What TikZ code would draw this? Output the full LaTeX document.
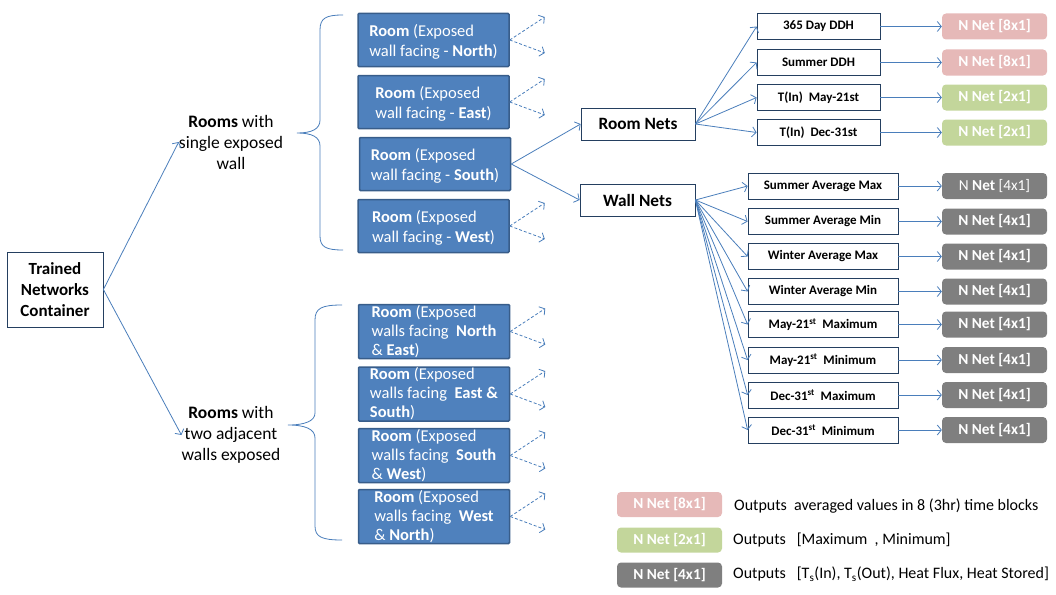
\documentclass[tikz,border=0pt]{standalone}
\usepackage{fontspec}
\setmainfont{Carlito}
\usetikzlibrary{arrows.meta}
\definecolor{ln}{HTML}{4A7EBB}
\definecolor{bluefill}{HTML}{4F81BD}
\definecolor{blueedge}{HTML}{385D8A}
\definecolor{edge}{HTML}{243F60}
\definecolor{pinkf}{HTML}{E6B9B8}
\definecolor{greenf}{HTML}{C3D69B}
\definecolor{grayf}{HTML}{7F7F7F}
\newcommand{\topstrut}{\rule{0pt}{16pt}}
\begin{document}
\begin{tikzpicture}[x=1pt,y=-1pt,
  conn/.style={draw=ln,line width=0.8pt,-{Straight Barb[length=4pt,width=10pt]}},
  dasharrow/.style={conn,dashed,dash pattern=on 3pt off 2pt},
  bluebox/.style={draw=blueedge,line width=1.5pt,fill=bluefill,text=white,align=left,
     minimum width=151pt,minimum height=53pt,inner sep=0pt,rounded corners=1pt,
     font=\fontsize{16.5}{20}\selectfont},
  plainbox/.style={draw=edge,line width=0.8pt,fill=white,inner sep=0pt,align=center},
  child/.style={plainbox,font=\bfseries\fontsize{13}{15}\selectfont,minimum height=26pt},
  outbox/.style={rounded corners=4pt,text=white,inner sep=0pt,minimum width=105pt,
     minimum height=26pt,font=\bfseries\fontsize{15.3}{17}\selectfont},
  brace/.style={draw=ln,line width=0.8pt},
  lbl/.style={align=center,font=\fontsize{17.5}{21}\selectfont,inner sep=0pt},
  legtext/.style={anchor=west,inner sep=0pt,font=\fontsize{16}{18}\selectfont}
]
\useasboundingbox (0,0) rectangle (1056,594);

% container
\node[plainbox,minimum width=96pt,minimum height=75pt,font=\bfseries\fontsize{17}{21}\selectfont] (cont) at (55,289.5) {Trained\\Networks\\Container};

% group labels
\node[lbl] (single) at (231,142) {\textbf{Rooms} with\\single exposed\\wall};
\node[lbl] (double) at (231,435) {\textbf{Rooms} with\\two adjacent\\walls exposed};
\draw[conn] (cont.east) -- (single.west);
\draw[conn] (cont.east) -- (double.west);

% braces
\draw[brace] (343,15) .. controls (326,15) and (320,18) .. (320,30) -- (320,120)
  .. controls (320,129) and (312,133) .. (297,133)
  .. controls (312,133) and (320,137) .. (320,146) -- (320,236)
  .. controls (320,247) and (326,250) .. (343,250);
\draw[brace] (342,305) .. controls (322,305) and (315,308) .. (315,320) -- (315,413)
  .. controls (315,421) and (305,425) .. (288,425)
  .. controls (305,425) and (315,429) .. (315,438) -- (315,526)
  .. controls (315,537) and (322,540) .. (342,540);

% single-wall rooms
\node[bluebox] (s1) at (433.5,40) {\topstrut\textbf{Room} (Exposed\\wall facing - \textbf{North})};
\node[bluebox] (s2) at (433.5,102) {\topstrut\textbf{Room} (Exposed\\wall facing - \textbf{East})};
\node[bluebox] (s3) at (435,164) {\topstrut\textbf{Room} (Exposed\\wall facing - \textbf{South})};
\node[bluebox] (s4) at (433.5,226) {\topstrut\textbf{Room} (Exposed\\wall facing - \textbf{West})};

% two-wall rooms
\node[bluebox,minimum height=54pt,font=\fontsize{16.5}{19}\selectfont] (d1) at (434,331.5) {\textbf{Room} (Exposed\\walls facing~~\textbf{North}\\\& \textbf{East})};
\node[bluebox,minimum height=54pt,font=\fontsize{16.5}{19}\selectfont] (d2) at (434,394) {\textbf{Room} (Exposed\\walls facing~~\textbf{East \&}\\\textbf{South})};
\node[bluebox,minimum height=54pt,font=\fontsize{16.5}{19}\selectfont] (d3) at (434,455.5) {\textbf{Room} (Exposed\\walls facing~~\textbf{South}\\\& \textbf{West})};
\node[bluebox,minimum height=54pt,font=\fontsize{16.5}{19}\selectfont] (d4) at (434,516.5) {\textbf{Room} (Exposed\\walls facing~~\textbf{West}\\\& \textbf{North})};

\foreach \b in {s1,s2,s4,d1,d2,d3,d4}{
  \path (\b.east) ++(35,-23) coordinate (\b u);
  \path (\b.east) ++(35,13) coordinate (\b d);
  \draw[dasharrow] (\b.east) -- (\b u);
  \draw[dasharrow] (\b.east) -- (\b d);
}

% nets
\node[plainbox,minimum width=114pt,minimum height=32pt,font=\bfseries\fontsize{17.3}{19}\selectfont] (room) at (638,124) {Room Nets};
\node[plainbox,minimum width=115pt,minimum height=32pt,font=\bfseries\fontsize{17.3}{19}\selectfont] (wall) at (637.5,200) {Wall Nets};
\draw[conn] (s3.east) -- (room.west);
\draw[conn] (s3.east) -- (wall.west);

% room children
\node[child,minimum width=123pt] (r1) at (818.5,26.5) {365 Day DDH};
\node[child,minimum width=123pt] (r2) at (818.5,62.5) {Summer DDH};
\node[child,minimum width=123pt] (r3) at (818.5,97.5) {T(In)~ May-21st};
\node[child,minimum width=123pt] (r4) at (818.5,132.5) {T(In)~ Dec-31st};
\node[outbox,fill=pinkf] (ro1) at (994.5,26.5) {N Net [8x1]};
\node[outbox,fill=pinkf] (ro2) at (994.5,62.5) {N Net [8x1]};
\node[outbox,fill=greenf] (ro3) at (994.5,97.5) {N Net [2x1]};
\node[outbox,fill=greenf] (ro4) at (994.5,132.5) {N Net [2x1]};
\foreach \i in {1,...,4}{
  \draw[conn] (room.east) -- (r\i.west);
  \draw[conn] (r\i.east) -- (ro\i.west);
}

% wall children
\node[child,minimum width=150pt] (w1) at (823,186) {Summer Average Max};
\node[child,minimum width=150pt] (w2) at (823,221.5) {Summer Average Min};
\node[child,minimum width=150pt] (w3) at (823,256.5) {Winter Average Max};
\node[child,minimum width=150pt] (w4) at (823,291.5) {Winter Average Min};
\node[child,minimum width=150pt] (w5) at (823,324.5) {May-21\textsuperscript{st}~~Maximum};
\node[child,minimum width=150pt] (w6) at (823,360) {May-21\textsuperscript{st}~~Minimum};
\node[child,minimum width=150pt] (w7) at (823,395) {Dec-31\textsuperscript{st}~~Maximum};
\node[child,minimum width=150pt] (w8) at (823,430) {Dec-31\textsuperscript{st}~~Minimum};
\node[outbox,fill=grayf] (wo1) at (994.5,186) {\mdseries N \bfseries Net \mdseries[4x1]};
\foreach \i/\y in {2/221.5,3/256.5,4/291.5,5/324.5,6/360,7/395,8/430}{
  \node[outbox,fill=grayf] (wo\i) at (994.5,\y) {N Net [4x1]};
}
\foreach \i in {1,...,8}{
  \draw[conn] (wall.east) -- (w\i.west);
  \draw[conn] (w\i.east) -- (wo\i.west);
}

% legend
\node[outbox,fill=pinkf,minimum height=25pt] (l1) at (669.5,504.5) {N Net [8x1]};
\node[outbox,fill=greenf,minimum height=25pt] (l2) at (669.5,540) {N Net [2x1]};
\node[outbox,fill=grayf,minimum height=25pt] (l3) at (669.5,575) {N Net [4x1]};
\node[legtext] (t1) at (734,506) {Outputs~ averaged values in 8 (3hr) time blocks};
\node[legtext] (t2) at (733,540) {Outputs~~ [Maximum~~, Minimum]};
\node[legtext] (t3) at (733,574) {Outputs~~ [T\textsubscript{s}(In), T\textsubscript{s}(Out), Heat Flux, Heat Stored]};
\end{tikzpicture}
\end{document}
